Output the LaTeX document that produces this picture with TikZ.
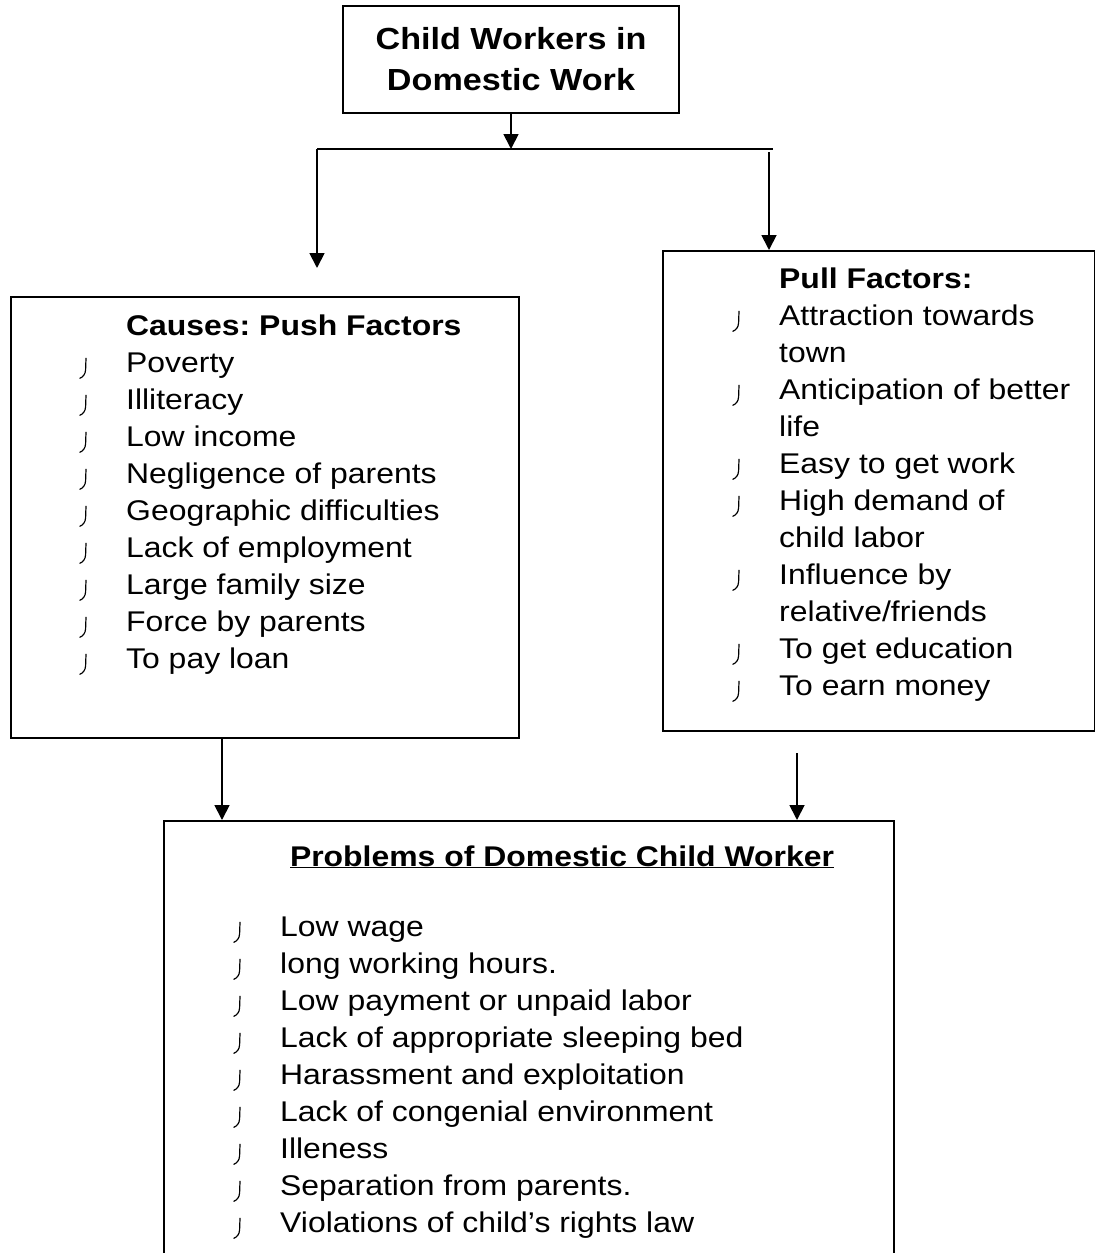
\documentclass[tikz,border=0pt]{standalone}
\usepackage{fontspec}
\setmainfont{Liberation Sans}[FakeStretch=1.12]
\usetikzlibrary{arrows.meta,positioning}
\frenchspacing
\newcommand{\bul}{\tikz[baseline=0pt, x=1pt, y=1pt]
    \draw[line width=1.2pt, line cap=round] (6.8,14.4) -- (6.4,3) .. controls (6.2,-1.5) and (3.8,-4.4) .. (0.6,-5.6);}
\tikzset{
    plain-box/.style = {draw, line width=2pt, rectangle, inner sep=0pt, anchor=north west},
    list-text/.style = {inner sep=0pt, anchor=north west, font=\fontsize{28.5}{37}\selectfont},
    link/.style = {line width=1.8pt, -{Triangle[width=15pt,length=15pt]}},
}

\begin{document}
\begin{tikzpicture}[x=1pt,y=-1pt]
\useasboundingbox (0,0) rectangle (1095,1253);
\clip (0,0) rectangle (1095,1253);

% boxes
\node[plain-box, minimum width=336pt, minimum height=107pt, align=center,
      font=\bfseries\fontsize{30.5}{41}\selectfont] (top) at (342,5) {Child Workers in\\Domestic Work};
\node[plain-box, minimum width=508pt, minimum height=441pt] (push) at (10,296) {};
\node[plain-box, minimum width=432pt, minimum height=480pt] (pull) at (662,250) {};
\node[plain-box, minimum width=730pt, minimum height=460pt] (problems) at (163,820) {};

% lists
\node[list-text] (push-list) at (79,309.6) {\begin{tabular}{@{}p{47pt}@{}l@{}}
    & \textbf{Causes: Push Factors}\\
    \bul & Poverty\\
    \bul & Illiteracy\\
    \bul & Low income\\
    \bul & Negligence of parents\\
    \bul & Geographic difficulties\\
    \bul & Lack of employment\\
    \bul & Large family size\\
    \bul & Force by parents\\
    \bul & To pay loan
\end{tabular}};
\node[list-text] (pull-list) at (732,262.6) {\begin{tabular}{@{}p{47pt}@{}l@{}}
    & \textbf{Pull Factors:}\\
    \bul & Attraction towards\\
    & town\\
    \bul & Anticipation of better\\
    & life\\
    \bul & Easy to get work\\
    \bul & High demand of\\
    & child labor\\
    \bul & Influence by\\
    & relative/friends\\
    \bul & To get education\\
    \bul & To earn money
\end{tabular}};
\node[list-text, anchor=base] (problems-title) at (562,866) {\underline{\textbf{Problems of Domestic Child Worker}}};
\node[list-text] (problems-list) at (233,910.6) {\begin{tabular}{@{}p{47pt}@{}l@{}}
    \bul & Low wage\\
    \bul & long working hours.\\
    \bul & Low payment or unpaid labor\\
    \bul & Lack of appropriate sleeping bed\\
    \bul & Harassment and exploitation\\
    \bul & Lack of congenial environment\\
    \bul & Illeness\\
    \bul & Separation from parents.\\
    \bul & Violations of child’s rights law
\end{tabular}};

% connectors
\coordinate (split) at (510,149);
\coordinate (split-left) at (317,149);
\coordinate (split-right) at (773,149);
\coordinate (push-in) at (317,268);
\coordinate (pull-in) at (769,152);
\coordinate (push-out) at (222,0);
\coordinate (pull-out) at (797,753);
\draw[link] (top.south) -- (top.south |- split);
\draw[line width=1.8pt] (split-left) -- (split-right);
\draw[link] (split-left) -- (push-in);
\draw[link] (pull-in) -- (pull-in |- pull.north);
\draw[link] (push-out |- push.south) -- (push-out |- problems.north);
\draw[link] (pull-out) -- (pull-out |- problems.north);
\end{tikzpicture}
\end{document}
